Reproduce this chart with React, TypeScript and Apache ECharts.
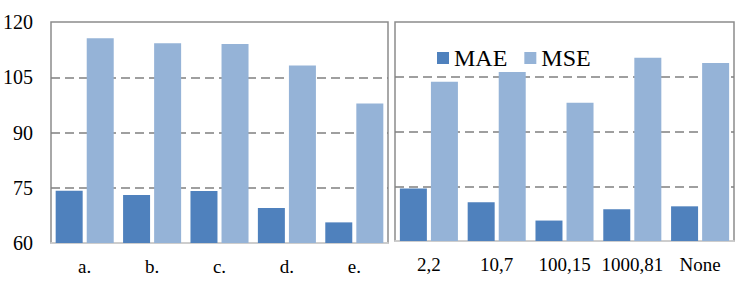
import React, { useEffect, useRef } from "react";
import * as echarts from "echarts";

const leftCategories = ["a.", "b.", "c.", "d.", "e."];
const rightCategories = ["2,2", "10,7", "100,15", "1000,81", "None"];
const leftMAE = [74.2, 73.0, 74.1, 69.5, 65.6];
const leftMSE = [115.6, 114.2, 114.0, 108.2, 97.9];
const rightMAE = [74.4, 70.6, 65.6, 68.7, 69.5];
const rightMSE = [103.6, 106.3, 97.9, 110.2, 108.8];
const yMin = 60;
const yMax = 120;
const yInterval = 15;

const MAE_COLOR = "#4F81BD";
const MSE_COLOR = "#95B3D7";
const FONT = "Liberation Serif";

export default function App() {
  const ref = useRef<HTMLDivElement>(null);
  useEffect(() => {
    if (!ref.current) return;
    const chart = echarts.init(ref.current, undefined, { renderer: "svg" });
    const gridCommon = {
      show: true,
      borderColor: "#8c8c8c",
      borderWidth: 1.5,
      backgroundColor: "transparent",
    };
    const xAxisCommon = (data: string[], gridIndex: number) => ({
      type: "category" as const,
      gridIndex,
      data,
      axisLine: { show: true, lineStyle: { color: "#d9d9d9", width: 1.5 } },
      axisTick: { show: false },
      axisLabel: {
        color: "#000",
        fontFamily: FONT,
        fontSize: 19,
        margin: 14,
        interval: 0,
      },
    });
    const yAxisCommon = (gridIndex: number, showLabels: boolean) => ({
      type: "value" as const,
      gridIndex,
      min: yMin,
      max: yMax,
      interval: yInterval,
      axisLine: { show: false },
      axisTick: { show: false },
      axisLabel: {
        show: showLabels,
        color: "#000",
        fontFamily: FONT,
        fontSize: 20,
        margin: 18,
      },
      splitLine: {
        show: true,
        showMinLine: false,
        showMaxLine: false,
        lineStyle: { color: "#808080", width: 1.5, type: [9, 5] },
      },
    });
    const bar = (name: string, data: number[], idx: number, color: string) => ({
      name,
      type: "bar" as const,
      xAxisIndex: idx,
      yAxisIndex: idx,
      data,
      barWidth: 27,
      barGap: "15%",
      itemStyle: { color },
    });
    chart.setOption({
      animation: false,
      legend: {
        data: ["MAE", "MSE"],
        left: 432,
        top: 41,
        itemWidth: 12,
        itemHeight: 12,
        itemGap: 17,
        icon: "rect",
        textStyle: { fontFamily: FONT, fontSize: 24, color: "#000" },
      },
      grid: [
        { ...gridCommon, left: 51, top: 22, width: 337, height: 221 },
        { ...gridCommon, left: 395, top: 22, width: 339, height: 219 },
      ],
      xAxis: [xAxisCommon(leftCategories, 0), xAxisCommon(rightCategories, 1)],
      yAxis: [yAxisCommon(0, true), yAxisCommon(1, false)],
      series: [
        bar("MAE", leftMAE, 0, MAE_COLOR),
        bar("MSE", leftMSE, 0, MSE_COLOR),
        bar("MAE", rightMAE, 1, MAE_COLOR),
        bar("MSE", rightMSE, 1, MSE_COLOR),
      ],
    });
    return () => chart.dispose();
  }, []);
  return (
    <div
      ref={ref}
      style={{ position: "fixed", left: 0, top: 0, width: 747, height: 285, background: "#fff" }}
    />
  );
}
